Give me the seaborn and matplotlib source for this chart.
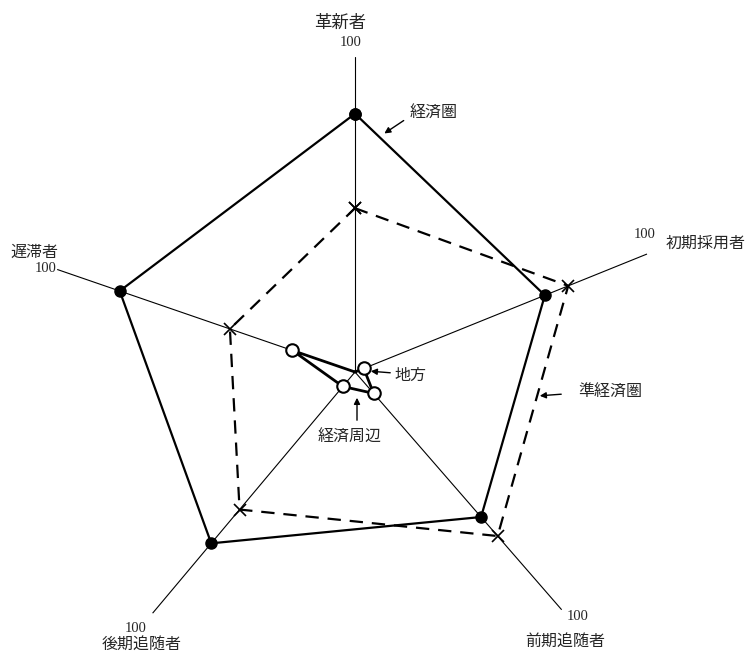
import numpy as np
import matplotlib.pyplot as plt
import seaborn as sns

# =========================
# Data
# =========================
categories = ["革新者", "初期採用者", "前期追随者", "後期追随者", "遅滞者"]
keizaiken = [82, 65, 61, 71, 79]       # 経済圏
jun_keizaiken = [52, 73, 69, 57, 42]   # 準経済圏
keizai_shuhen = [0, 3, 9, 6, 21]       # 経済周辺
axis_max = 100

# axis directions (clockwise from top, degrees) as drawn in the original figure
axis_angles_deg = [0, 68, 139, 220, 289]

sns.set_style("white")
plt.rcParams["font.family"] = ["Noto Sans CJK JP", "DejaVu Sans"]

W, H = 751, 654
fig = plt.figure(figsize=(W / 100, H / 100), dpi=100)

# polar axes: centre at (355, 372) px, radius 315 px
cx, cy, R = 355, 372, 315
ax = fig.add_axes([(cx - R) / W, (H - cy - R) / H, 2 * R / W, 2 * R / H], projection="polar")
ax.set_theta_offset(np.pi / 2)
ax.set_theta_direction(-1)
ax.set_ylim(0, axis_max)
ax.grid(False)
ax.set_xticks([])
ax.set_yticks([])
ax.spines["polar"].set_visible(False)
ax.patch.set_alpha(0)

angles = np.deg2rad(axis_angles_deg)

# axis lines
for a in angles:
    ax.plot([a, a], [0, axis_max], color="black", lw=0.8)


def closed(vals):
    return np.append(angles, angles[0]), np.append(vals, vals[0])


t, r = closed(keizaiken)
ax.plot(t, r, color="black", lw=1.6, marker="o", ms=8, mfc="black", mec="black")

t, r = closed(jun_keizaiken)
ax.plot(t, r, color="black", lw=1.6, ls=(0, (6, 4)), marker="x", ms=8, mew=1.2)

t, r = closed(keizai_shuhen)
ax.plot(t, r, color="black", lw=2.0)
ax.plot(angles[1:], keizai_shuhen[1:], ls="none", marker="o", ms=9, mfc="white",
        mec="black", mew=1.5, zorder=5)


# =========================
# Labels (pixel -> figure fraction)
# =========================
def fx(x):
    return x / W


def fy(y):
    return 1 - y / H


serif = ["Liberation Serif", "DejaVu Serif"]
fs = 11.5
nfs = 10.5

fig.text(fx(340), fy(23), categories[0], ha="center", va="center", fontsize=12.5)
fig.text(fx(351), fy(42), "100", ha="center", va="center", fontsize=nfs, family=serif)

fig.text(fx(706), fy(243), categories[1], ha="center", va="center", fontsize=fs)
fig.text(fx(645), fy(235), "100", ha="center", va="center", fontsize=nfs, family=serif)

fig.text(fx(578), fy(617), "100", ha="center", va="center", fontsize=nfs, family=serif)
fig.text(fx(565), fy(641), categories[2], ha="center", va="center", fontsize=fs)

fig.text(fx(136), fy(629), "100", ha="center", va="center", fontsize=nfs, family=serif)
fig.text(fx(142), fy(644), categories[3], ha="center", va="center", fontsize=fs)

fig.text(fx(34), fy(252), categories[4], ha="center", va="center", fontsize=fs)
fig.text(fx(46), fy(269), "100", ha="center", va="center", fontsize=nfs, family=serif)

# series annotations
arrow = dict(arrowstyle="-|>", color="black", lw=1.0, mutation_scale=9)
afs = 11.5
fig.text(fx(434), fy(113), "経済圏", ha="center", va="center", fontsize=afs)
ax.annotate("", xy=(fx(382), fy(135)), xytext=(fx(406), fy(119)),
            xycoords="figure fraction", textcoords="figure fraction", arrowprops=arrow)

fig.text(fx(610), fy(392), "準経済圏", ha="center", va="center", fontsize=afs)
ax.annotate("", xy=(fx(537), fy(396)), xytext=(fx(564), fy(394)),
            xycoords="figure fraction", textcoords="figure fraction", arrowprops=arrow)

fig.text(fx(410), fy(375), "地方", ha="center", va="center", fontsize=afs)
ax.annotate("", xy=(fx(368), fy(371)), xytext=(fx(393), fy(373)),
            xycoords="figure fraction", textcoords="figure fraction", arrowprops=arrow)

fig.text(fx(350), fy(437), "経済周辺", ha="center", va="center", fontsize=afs)
ax.annotate("", xy=(fx(357), fy(395)), xytext=(fx(357), fy(423)),
            xycoords="figure fraction", textcoords="figure fraction", arrowprops=arrow)

fig.savefig("out.png", dpi=100)
